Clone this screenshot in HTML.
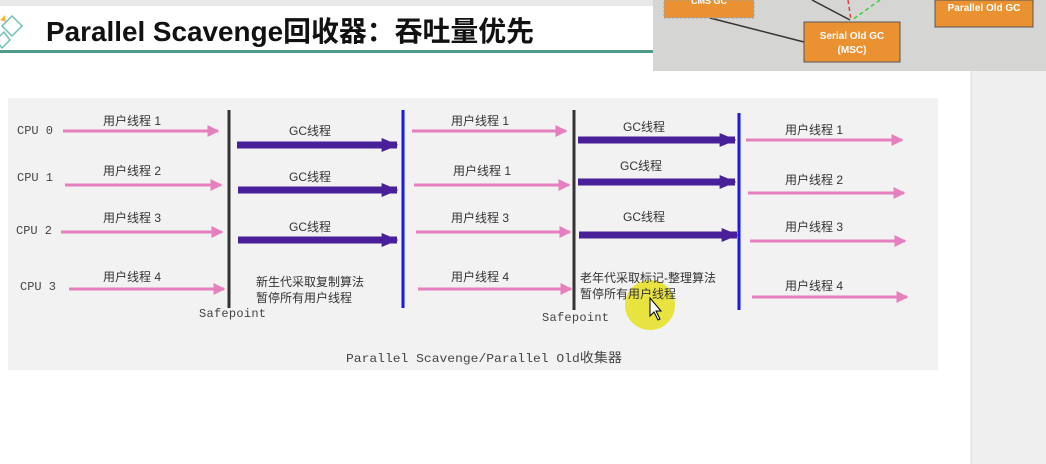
<!DOCTYPE html>
<html><head><meta charset="utf-8"><style>
html,body{margin:0;padding:0;width:1046px;height:464px;overflow:hidden;background:#fff;}
svg{display:block}
</style></head><body>
<svg width="1046" height="464" viewBox="0 0 1046 464" xmlns="http://www.w3.org/2000/svg" font-family="'Liberation Sans','Noto Sans CJK SC',sans-serif">
<defs>
<marker id="pk" markerWidth="4" markerHeight="4" refX="3.5" refY="2" orient="auto" markerUnits="strokeWidth"><path d="M0,0 L4,2 L0,4 z" fill="#e67fbd"/></marker>
<marker id="pu" markerWidth="2.4" markerHeight="2" refX="2.2" refY="1" orient="auto" markerUnits="strokeWidth"><path d="M0,0 L2.4,1 L0,2 z" fill="#4a1f9a"/></marker>
</defs>
<rect x="0" y="0" width="1046" height="6" fill="#e8e8e8"/>
<rect x="971" y="60" width="75" height="404" fill="#efefef"/>
<line x1="971" y1="60" x2="971" y2="464" stroke="#d8d8d8"/>
<rect x="0" y="50" width="660" height="3" fill="#4f9a8c"/>
<g fill="none" stroke="#6cc2b4" stroke-width="1.5">
<path d="M2,26 L12,16 L22,26 L12,36 Z"/><path d="M-4,40 L4,32 L10,40 L2,48 Z"/>
</g>
<path d="M0,20 L5,15 L6,22 Z" fill="#f0b840"/>
<text x="46" y="41" font-size="28" font-weight="bold" fill="#111" textLength="488" lengthAdjust="spacingAndGlyphs">Parallel Scavenge回收器：吞吐量优先</text>
<rect x="653" y="0" width="393" height="71" fill="#d5d5d3"/>
<line x1="710" y1="18" x2="804" y2="42" stroke="#333" stroke-width="1.5"/>
<line x1="812" y1="0" x2="850" y2="20" stroke="#333" stroke-width="1.5"/>
<line x1="848" y1="0" x2="851" y2="20" stroke="#e04040" stroke-width="1.5" stroke-dasharray="4,3"/>
<line x1="880" y1="0" x2="852" y2="20" stroke="#3ad03a" stroke-width="1.5" stroke-dasharray="4,3"/>
<rect x="664" y="0" width="90" height="18" fill="#ea9232" stroke="#7ad" stroke-dasharray="2,2"/>
<text x="709" y="4" font-size="9" fill="#fff" text-anchor="middle" font-weight="bold">CMS GC</text>
<rect x="804" y="22" width="96" height="40" fill="#ea9232" stroke="#555"/>
<text x="852" y="39" font-size="10" fill="#fff" text-anchor="middle" font-weight="bold">Serial Old GC</text>
<text x="852" y="53" font-size="10" fill="#fff" text-anchor="middle" font-weight="bold">(MSC)</text>
<rect x="935" y="0" width="98" height="27" fill="#ea9232" stroke="#555"/>
<text x="984" y="11" font-size="10" fill="#fff" text-anchor="middle" font-weight="bold">Parallel Old GC</text>
<rect x="8" y="98" width="930" height="272" fill="#f2f2f2"/>
<g font-family="'Liberation Mono','Noto Sans CJK SC',monospace" font-size="12" fill="#444">
<text x="17" y="134">CPU 0</text><text x="17" y="181">CPU 1</text><text x="16" y="234">CPU 2</text><text x="20" y="290">CPU 3</text>
<text x="199" y="317" textLength="67">Safepoint</text><text x="542" y="321" textLength="67">Safepoint</text>
<text x="346" y="362" textLength="276" lengthAdjust="spacingAndGlyphs">Parallel Scavenge/Parallel Old<tspan font-family="'Noto Sans CJK SC',sans-serif" font-size="13">收集器</tspan></text>
</g>
<g stroke="#e67fbd" stroke-width="3" marker-end="url(#pk)">
<line x1="63" y1="131" x2="218" y2="131"/><line x1="65" y1="185" x2="221" y2="185"/>
<line x1="61" y1="232" x2="222" y2="232"/><line x1="69" y1="289" x2="224" y2="289"/>
<line x1="412" y1="131" x2="566" y2="131"/><line x1="414" y1="185" x2="569" y2="185"/>
<line x1="416" y1="232" x2="570" y2="232"/><line x1="418" y1="289" x2="571" y2="289"/>
<line x1="746" y1="140" x2="902" y2="140"/><line x1="748" y1="193" x2="904" y2="193"/>
<line x1="750" y1="241" x2="905" y2="241"/><line x1="752" y1="297" x2="907" y2="297"/>
</g>
<g stroke="#4a1f9a" stroke-width="7" marker-end="url(#pu)">
<line x1="237" y1="145" x2="397" y2="145"/><line x1="238" y1="190" x2="397" y2="190"/><line x1="238" y1="240" x2="397" y2="240"/>
<line x1="578" y1="140" x2="735" y2="140"/><line x1="578" y1="182" x2="735" y2="182"/><line x1="579" y1="235" x2="737" y2="235"/>
</g>
<line x1="229" y1="110" x2="229" y2="308" stroke="#333" stroke-width="3"/>
<line x1="574" y1="110" x2="574" y2="310" stroke="#333" stroke-width="3"/>
<line x1="403" y1="110" x2="403" y2="308" stroke="#1a1ae0" stroke-width="3"/>
<line x1="739" y1="113" x2="739" y2="310" stroke="#1a1ae0" stroke-width="3"/>
<g font-size="12" fill="#333">
<text x="103" y="125">用户线程 1</text><text x="103" y="175">用户线程 2</text><text x="103" y="222">用户线程 3</text><text x="103" y="281">用户线程 4</text>
<text x="451" y="125">用户线程 1</text><text x="453" y="175">用户线程 1</text><text x="451" y="222">用户线程 3</text><text x="451" y="281">用户线程 4</text>
<text x="785" y="134">用户线程 1</text><text x="785" y="184">用户线程 2</text><text x="785" y="231">用户线程 3</text><text x="785" y="290">用户线程 4</text>
<text x="289" y="135">GC线程</text><text x="289" y="181">GC线程</text><text x="289" y="231">GC线程</text>
<text x="623" y="131">GC线程</text><text x="620" y="170">GC线程</text><text x="623" y="221">GC线程</text>
<text x="256" y="286">新生代采取复制算法</text><text x="256" y="302">暂停所有用户线程</text>
</g>
<circle cx="650" cy="305" r="25" fill="#e8e020" opacity="0.85"/>
<g font-size="12" fill="#333">
<text x="580" y="282">老年代采取标记-整理算法</text><text x="580" y="298">暂停所有用户线程</text>
</g>
<path d="M650,298 L650,316 L654,312 L658,320 L660,319 L656,311 L661,311 Z" fill="#fff" stroke="#000" stroke-width="1"/>
</svg>
</body></html>
